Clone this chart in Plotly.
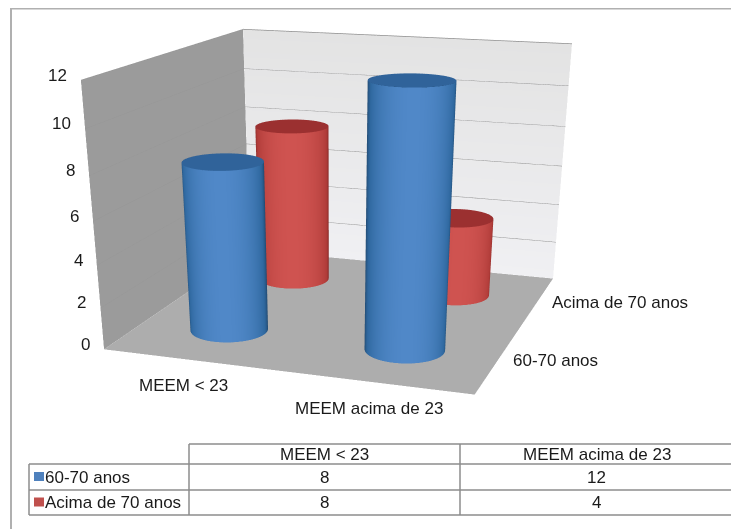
import numpy as np
import plotly.graph_objects as go

categories = ["MEEM < 23", "MEEM acima de 23"]
series_names = ["60-70 anos", "Acima de 70 anos"]
values_60_70 = [8, 12]
values_acima_70 = [8, 4]
z_ticks = [0, 2, 4, 6, 8, 10, 12]

W, HF = 731, 1100
OFF = 8  # browser body margin


def px(x):
    return (x - OFF) / W


def py(y):
    return 1 - (y - OFF) / HF


ASPECT = dict(x=1.0, y=1.02, z=0.675)
XMAX, YMAX, ZMAX = 2, 2, 12
R = 0.106
NOLIGHT = dict(ambient=1, diffuse=0, specular=0, roughness=1, fresnel=0)
fig = go.Figure()


def flat(x, y, z, color):
    return go.Surface(x=x, y=y, z=z, surfacecolor=np.zeros_like(np.array(z, float)),
                      colorscale=[[0, color], [1, color]], showscale=False, hoverinfo="skip", lighting=NOLIGHT)


fig.add_trace(flat([[0, XMAX], [0, XMAX]], [[0, 0], [YMAX, YMAX]], [[0, 0], [0, 0]], "#adadad"))
fig.add_trace(flat([[0, 0], [0, 0]], [[0, YMAX], [0, YMAX]], [[0, 0], [ZMAX, ZMAX]], "#9b9b9b"))
fig.add_trace(go.Surface(x=[[0, XMAX], [0, XMAX]], y=[[YMAX, YMAX], [YMAX, YMAX]], z=[[0, 0], [ZMAX, ZMAX]],
                         surfacecolor=[[1, 1], [0, 0]], colorscale=[[0, "#e3e3e3"], [1, "#f0f0f3"]],
                         showscale=False, hoverinfo="skip", lighting=NOLIGHT))

for t in z_ticks[1:]:
    fig.add_trace(go.Scatter3d(x=[0, XMAX], y=[YMAX, YMAX], z=[t, t], mode="lines",
                               line=dict(color="#8f8f8f", width=1.5), hoverinfo="skip", showlegend=False))
    fig.add_trace(go.Scatter3d(x=[0, 0], y=[0, YMAX], z=[t, t], mode="lines",
                               line=dict(color="#949494", width=1), hoverinfo="skip", showlegend=False))

ang = np.linspace(0, 2 * np.pi, 73)
AZ, PITCH, DIST, SHIFT_A, SHIFT_B = 0.3299, 0.4963, 3.619, -0.035, -0.999
view = np.array([np.cos(PITCH) * np.sin(AZ), -np.cos(PITCH) * np.cos(AZ), np.sin(PITCH)])
view_angle = np.arctan2(view[1], view[0])
rx, ry = R * XMAX / ASPECT["x"], R * YMAX / ASPECT["y"]


def cylinder(cx, cy, h, side_scale, cap):
    X = np.array([cx + rx * np.cos(ang)] * 2)
    Y = np.array([cy + ry * np.sin(ang)] * 2)
    Z = np.array([np.zeros_like(ang), np.full_like(ang, h)])
    S = np.array([np.cos(ang - view_angle)] * 2)
    fig.add_trace(go.Surface(x=X, y=Y, z=Z, surfacecolor=S, cmin=0, cmax=1, colorscale=side_scale,
                             showscale=False, hoverinfo="skip", lighting=NOLIGHT))
    fr = np.array([0, 1.0])
    Xc = np.outer(fr, rx * np.cos(ang)) + cx
    Yc = np.outer(fr, ry * np.sin(ang)) + cy
    fig.add_trace(flat(Xc, Yc, np.full_like(Xc, h), cap))


blue = [[0, "#1f4468"], [0.35, "#2f689f"], [1, "#5088c8"]]
red = [[0, "#7a2422"], [0.35, "#b03c39"], [1, "#cf5350"]]
for i in range(2):
    cylinder(i + 0.5, 0.5, values_60_70[i], blue, "#30639a")
    cylinder(i + 0.5, 1.5, values_acima_70[i], red, "#9b3030")

FONT = dict(family="Liberation Sans", size=17, color="#1a1a1a")
ann = []
for t in z_ticks:
    ann.append(dict(x=0, y=0, z=t, text=str(t), showarrow=False, xanchor="right", xshift=-12, yshift=5, font=FONT))
for i, c in enumerate(categories):
    ann.append(dict(x=i + 0.5, y=0, z=0, text=c, showarrow=False, xshift=-7, yshift=-26, font=FONT))
for i, s in enumerate(series_names):
    ann.append(dict(x=XMAX, y=i + 0.5, z=0, text=s, showarrow=False, xanchor="left", xshift=13, yshift=0, font=FONT))

right = np.cross(-view, [0, 0, 1.0])
right /= np.linalg.norm(right)
up = np.cross(right, -view)
center = SHIFT_A * right + SHIFT_B * up
eye = center + DIST * view

ax_off = dict(visible=False, showgrid=False, showbackground=False, zeroline=False, showspikes=False)
GRID = "#8c8c8c"
FRAME = "#b0b0b0"


def seg(x0, y0, x1, y1, color=GRID, width=1.5):
    return dict(type="line", xref="paper", yref="paper", x0=px(x0), y0=py(y0), x1=px(x1), y1=py(y1),
                line=dict(color=color, width=width))


shapes = [seg(10, 8.5, 739, 8.5, FRAME, 2), seg(11, 8, 11, 529, FRAME, 2)]
tx = [29, 189, 460, 733]
ty = [444, 464, 490, 515]
for y, x0 in zip(ty, [189, 29, 29, 29]):
    shapes.append(seg(x0, y, tx[-1], y))
for x, y0 in zip(tx, [464, 444, 444, 444]):
    shapes.append(seg(x, y0, x, ty[-1]))
keys = ["#4f81bd", "#c0504d"]
paper_ann = []


def cell(x, y, text, anchor="center"):
    paper_ann.append(dict(xref="paper", yref="paper", x=px(x), y=py(y), text=str(text), showarrow=False,
                          xanchor=anchor, yanchor="middle", xshift=0, font=FONT))


for j, c in enumerate(categories):
    cell((tx[j + 1] + tx[j + 2]) / 2, (ty[0] + ty[1]) / 2, c)
for i, (s, vals) in enumerate(zip(series_names, [values_60_70, values_acima_70])):
    ym = (ty[i + 1] + ty[i + 2]) / 2
    shapes.append(dict(type="rect", xref="paper", yref="paper", x0=px(34), x1=px(44), y0=py(ym - 5), y1=py(ym + 4),
                       fillcolor=keys[i], line=dict(width=0)))
    cell(43, ym, s, "left")
    for j in range(2):
        cell((tx[j + 1] + tx[j + 2]) / 2, ym, vals[j])

fig.update_layout(
    width=W, height=HF, margin=dict(l=0, r=0, t=0, b=0), paper_bgcolor="white", showlegend=False,
    scene=dict(
        domain=dict(x=[0, 650 / W], y=[0, 1]),
        xaxis=dict(range=[0, XMAX], **ax_off), yaxis=dict(range=[0, YMAX], **ax_off),
        zaxis=dict(range=[0, ZMAX], **ax_off),
        aspectmode="manual", aspectratio=ASPECT,
        camera=dict(eye=dict(x=eye[0], y=eye[1], z=eye[2]), center=dict(x=center[0], y=center[1], z=center[2]),
                    up=dict(x=0, y=0, z=1)),
        annotations=ann,
    ),
    shapes=shapes, annotations=paper_ann,
)

fig.write_html("out.html")
